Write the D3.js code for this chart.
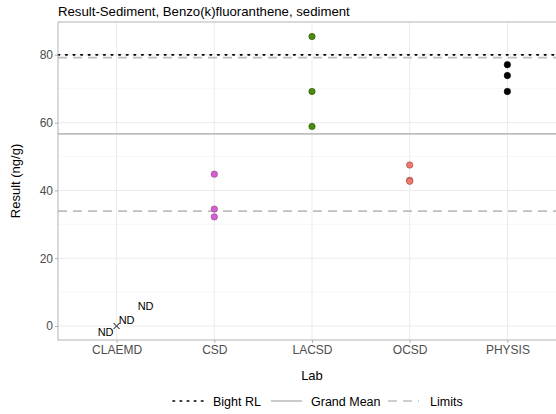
<!DOCTYPE html>
<html><head><meta charset="utf-8">
<script src="https://cdn.jsdelivr.net/npm/d3@7"></script>
<style>body{margin:0;background:#fff}svg{display:block;font-family:"Liberation Sans",Arial,sans-serif}</style>
</head><body><svg id="c" width="556" height="414"></svg>
<script>
const title = "Result-Sediment, Benzo(k)fluoranthene, sediment";
const labs = ["CLAEMD","CSD","LACSD","OCSD","PHYSIS"];
const labColors = ["#000000","#D65FD0","#4B8A12","#F0786A","#000000"];
const csdVals = [44.8, 34.5, 32.2];
const lacsdVals = [85.4, 69.2, 58.9];
const ocsdVals = [47.5, 43.0, 42.7];
const physisVals = [77.1, 73.9, 69.2];
const ndVals = [0, 0, 0];
const ndLabels = ["ND","ND","ND"];
const bightRL = 80;
const grandMean = 56.7;
const limits = [79.2, 33.9];
const yTicks = [0,20,40,60,80];
const yMinor = [10,30,50,70,90];
const legendItems = ["Bight RL","Grand Mean","Limits"];

const svg = d3.select("#c");
const L = 58, R = 566, T = 22, B = 340;
const step = (R - L) / (labs.length + 0.2);
const xc = d => L + step * (0.6 + labs.indexOf(d));
const y = d3.scaleLinear().domain([-4.13, 89.7]).range([B, T]);

svg.append("rect").attr("x",L).attr("y",T).attr("width",R-L).attr("height",B-T).attr("fill","#fff");
const g = svg.append("g");
g.selectAll(".mn").data(yMinor.filter(v=>y(v)>T)).enter().append("line")
 .attr("x1",L).attr("x2",R).attr("y1",d=>y(d)).attr("y2",d=>y(d)).attr("stroke","#f2f2f2").attr("stroke-width",0.6);
g.selectAll(".mj").data(yTicks).enter().append("line")
 .attr("x1",L).attr("x2",R).attr("y1",d=>y(d)).attr("y2",d=>y(d)).attr("stroke","#ebebeb").attr("stroke-width",1);
g.selectAll(".vx").data(labs).enter().append("line")
 .attr("x1",d=>xc(d)).attr("x2",d=>xc(d)).attr("y1",T).attr("y2",B).attr("stroke","#ebebeb").attr("stroke-width",1);

g.append("line").attr("x1",L).attr("x2",R).attr("y1",y(grandMean)).attr("y2",y(grandMean))
 .attr("stroke","#bebebe").attr("stroke-width",1.6);
limits.forEach(v=>g.append("line").attr("x1",L).attr("x2",R).attr("y1",y(v)).attr("y2",y(v))
 .attr("stroke","#bebebe").attr("stroke-width",1.6).attr("stroke-dasharray","9,6"));
g.append("line").attr("x1",L).attr("x2",R).attr("y1",y(bightRL)).attr("y2",y(bightRL))
 .attr("stroke","#000").attr("stroke-width",1.6).attr("stroke-dasharray","1.6,6").attr("stroke-linecap","round");

const series = [["CSD",csdVals],["LACSD",lacsdVals],["OCSD",ocsdVals],["PHYSIS",physisVals]];
series.forEach(([lab, vals])=>{
  const col = labColors[labs.indexOf(lab)];
  g.selectAll(null).data(vals).enter().append("circle")
   .attr("cx",xc(lab)).attr("cy",d=>y(d)).attr("r",3.2)
   .attr("fill",col).attr("stroke", lab==="PHYSIS" ? "#000" : d3.color(col).darker(1.2)).attr("stroke-width",0.6);
});
const cx0 = xc("CLAEMD");
ndVals.forEach(v=>{
  const px = cx0, py = y(v), s = 3;
  g.append("path").attr("d",`M${px-s},${py-s}L${px+s},${py+s}M${px-s},${py+s}L${px+s},${py-s}`)
   .attr("stroke","#555").attr("stroke-width",0.8);
});
const ndOffsets = [[-11,10],[10,-2],[29,-16]];
ndLabels.forEach((t,i)=>{
  g.append("text").attr("x",cx0+ndOffsets[i][0]).attr("y",y(ndVals[i])+ndOffsets[i][1])
   .attr("text-anchor","middle").attr("font-size",11).attr("fill","#000").text(t);
});

svg.append("rect").attr("x",L).attr("y",T).attr("width",R-L).attr("height",B-T)
 .attr("fill","none").attr("stroke","#b3b3b3").attr("stroke-width",1);

const ya = svg.append("g").attr("transform",`translate(${L},0)`)
 .call(d3.axisLeft(y).tickValues(yTicks).tickSize(3).tickPadding(2));
ya.select(".domain").remove();
ya.selectAll("line").attr("stroke","#b3b3b3");
ya.selectAll("text").attr("fill","#4d4d4d").attr("font-size",12).attr("font-family","Liberation Sans,Arial,sans-serif");
const xa = svg.append("g").attr("transform",`translate(0,${B})`)
 .call(d3.axisBottom(d3.scalePoint().domain(labs).range([xc(labs[0]), xc(labs[4])])).tickSize(3).tickPadding(2));
xa.select(".domain").remove();
xa.selectAll("line").attr("stroke","#b3b3b3");
xa.selectAll("text").attr("fill","#4d4d4d").attr("font-size",12).attr("font-family","Liberation Sans,Arial,sans-serif");

svg.append("text").attr("x",L).attr("y",16).attr("font-size",13.2).attr("fill","#000").text(title);
svg.append("text").attr("x",(L+R)/2).attr("y",380).attr("text-anchor","middle").attr("font-size",13).text("Lab");
svg.append("text").attr("transform",`translate(20,${(T+B)/2}) rotate(-90)`).attr("text-anchor","middle")
 .attr("font-size",13).text("Result (ng/g)");

const ly = 401;
const lg = svg.append("g");
const styles = [
  {stroke:"#000", dash:"1.6,5.5", cap:"round"},
  {stroke:"#bebebe", dash:null, cap:"butt"},
  {stroke:"#bebebe", dash:"9,6", cap:"butt"}
];
const keyX = [173, 271, 388];
const txtX = [213, 311, 430];
legendItems.forEach((t,i)=>{
  const st = styles[i];
  const ln = lg.append("line").attr("x1",keyX[i]).attr("x2",keyX[i]+31).attr("y1",ly).attr("y2",ly)
    .attr("stroke",st.stroke).attr("stroke-width",1.6).attr("stroke-linecap",st.cap);
  if (st.dash) ln.attr("stroke-dasharray",st.dash);
  lg.append("text").attr("x",txtX[i]).attr("y",ly+4.5).attr("font-size",12.5).text(t);
});
</script></body></html>
